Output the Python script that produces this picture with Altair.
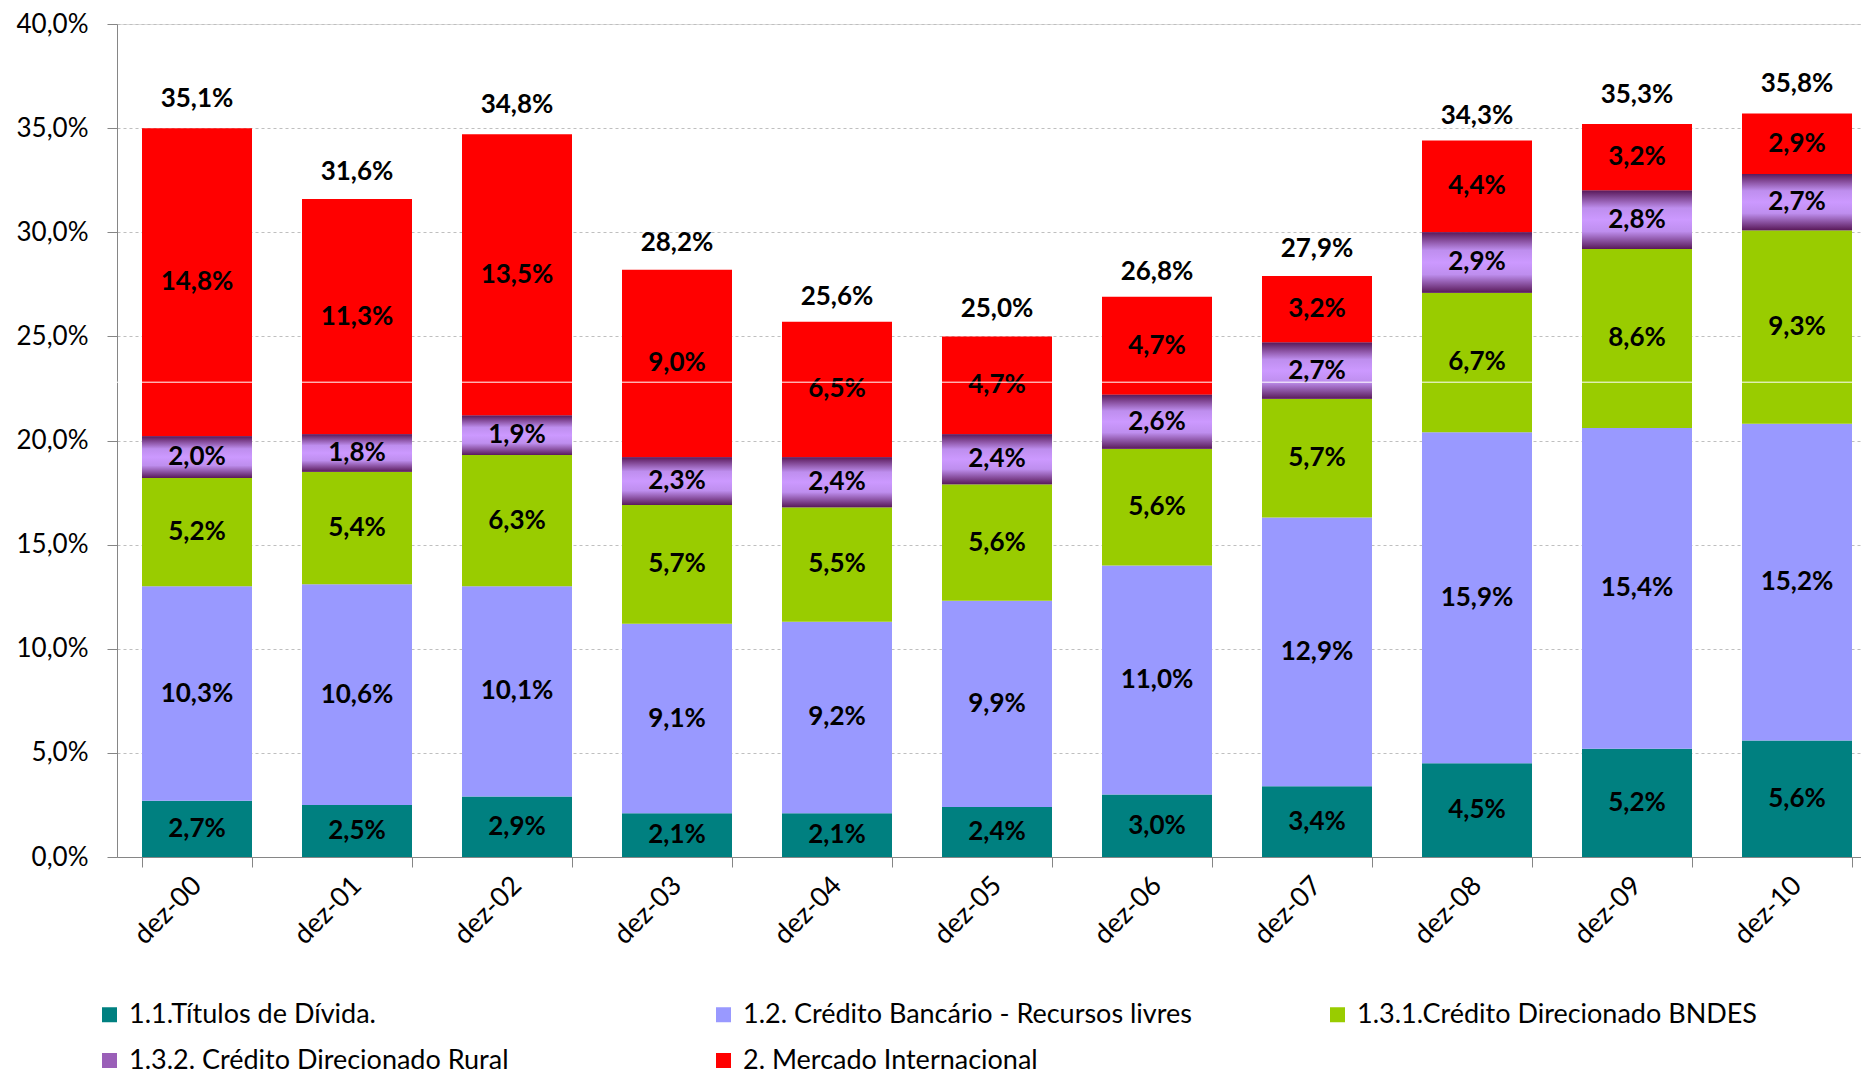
import altair as alt
import pandas as pd

categories = ["dez-00", "dez-01", "dez-02", "dez-03", "dez-04", "dez-05",
              "dez-06", "dez-07", "dez-08", "dez-09", "dez-10"]
series_names = ["1.1.Títulos de Dívida.",
                "1.2. Crédito Bancário - Recursos livres",
                "1.3.1.Crédito Direcionado  BNDES",
                "1.3.2. Crédito Direcionado Rural",
                "2. Mercado Internacional"]
titulos = [2.7, 2.5, 2.9, 2.1, 2.1, 2.4, 3.0, 3.4, 4.5, 5.2, 5.6]
livres = [10.3, 10.6, 10.1, 9.1, 9.2, 9.9, 11.0, 12.9, 15.9, 15.4, 15.2]
bndes = [5.2, 5.4, 6.3, 5.7, 5.5, 5.6, 5.6, 5.7, 6.7, 8.6, 9.3]
rural = [2.0, 1.8, 1.9, 2.3, 2.4, 2.4, 2.6, 2.7, 2.9, 2.8, 2.7]
mercado = [14.8, 11.3, 13.5, 9.0, 6.5, 4.7, 4.7, 3.2, 4.4, 3.2, 2.9]
totals = [35.1, 31.6, 34.8, 28.2, 25.6, 25.0, 26.8, 27.9, 34.3, 35.3, 35.8]
colors = ["#008080", "#9999FF", "#99CC00", "#9A5FB8", "#FF0000"]

# legend fills column by column (2 rows): order so rows read T, C, B / R, M
legend_order = [0, 3, 1, 4, 2]
legend_domain = [series_names[i] for i in legend_order]
legend_range = [colors[i] for i in legend_order]


def pt(v):
    return f"{v:.1f}".replace(".", ",") + "%"


rows = []
for si, (name, vals) in enumerate(zip(series_names, [titulos, livres, bndes, rural, mercado])):
    for c, v in zip(categories, vals):
        rows.append({"cat": c, "series": name, "value": v, "order": si, "label": pt(v)})
df = pd.DataFrame(rows)
df_tot = pd.DataFrame({"cat": categories, "total": totals, "tlabel": [pt(t) for t in totals]})

FONT = "Lato"

xenc = alt.X("cat:N", sort=categories, title=None,
             scale=alt.Scale(range=[0, 1760], paddingInner=0.3125, paddingOuter=0.15625),
             axis=alt.Axis(labelAngle=-45, labelAlign="right", labelBaseline="middle",
                           labelFontSize=27, labelFont=FONT, labelColor="#000000",
                           labelPadding=14, tickBand="extent", tickSize=10,
                           tickColor="#868686", domainColor="#868686", grid=False))

base = alt.Chart(df).transform_stack(
    stack="value", groupby=["cat"], as_=["y0", "y1"],
    sort=[alt.SortField("order", order="ascending")]
).transform_calculate(mid="(datum.y0 + datum.y1) / 2")

bars = base.mark_bar().encode(
    x=xenc,
    y=alt.Y("y0:Q", title=None,
            scale=alt.Scale(domain=[0, 40], nice=False),
            axis=alt.Axis(values=[0, 5, 10, 15, 20, 25, 30, 35, 40],
                          labelExpr="replace(format(datum.value, '.1f'), '.', ',') + '%'",
                          labelFontSize=26, labelFont=FONT, labelColor="#000000",
                          labelPadding=19, tickSize=10, tickColor="#868686",
                          domainColor="#868686", gridColor="#BFBFBF",
                          gridDash=[3, 3], gridWidth=1)),
    y2="y1:Q",
    color=alt.Color("series:N",
                    scale=alt.Scale(domain=legend_domain, range=legend_range),
                    legend=alt.Legend(title=None, orient="none", legendX=-21, legendY=977,
                                      columns=3, gridAlign="all", columnPadding=132,
                                      rowPadding=18, symbolType="square", symbolSize=225,
                                      symbolStrokeWidth=0, labelFontSize=27, labelFont=FONT,
                                      labelColor="#000000", labelOffset=6, labelLimit=0)),
)

grad = alt.LinearGradient(
    gradient="linear", x1=0, x2=0, y1=0, y2=1,
    stops=[alt.GradientStop(offset=0, color="#5A1A5A"),
           alt.GradientStop(offset=0.3, color="#BE8EEE"),
           alt.GradientStop(offset=0.5, color="#CC99FF"),
           alt.GradientStop(offset=0.7, color="#BE8EEE"),
           alt.GradientStop(offset=1, color="#5A1A5A")])

rural_bars = base.transform_filter(
    alt.datum.series == series_names[3]
).mark_bar(fill=grad).encode(x=xenc, y="y0:Q", y2="y1:Q")

seg_labels = base.mark_text(fontSize=26, font=FONT, fontWeight="bold", color="#000000").encode(
    x=xenc, y="mid:Q", text="label:N")

tot_labels = alt.Chart(df_tot).mark_text(
    fontSize=26, font=FONT, fontWeight="bold", color="#000000", baseline="bottom", dy=-14
).encode(x=xenc, y="total:Q", text="tlabel:N")

artifact = alt.Chart(pd.DataFrame({"yv": [22.8]})).mark_rule(color="#FFFFFF", strokeWidth=1).encode(
    y="yv:Q")

chart = alt.layer(bars, rural_bars, seg_labels, tot_labels, artifact).properties(
    width=1744, height=833,
    autosize=alt.AutoSizeParams(type="none"),
    padding={"left": 117, "top": 24, "right": 0, "bottom": 219},
).configure_view(stroke=None).configure(font=FONT)

chart.save("out.html", embed_options={"renderer": "svg", "actions": False})
